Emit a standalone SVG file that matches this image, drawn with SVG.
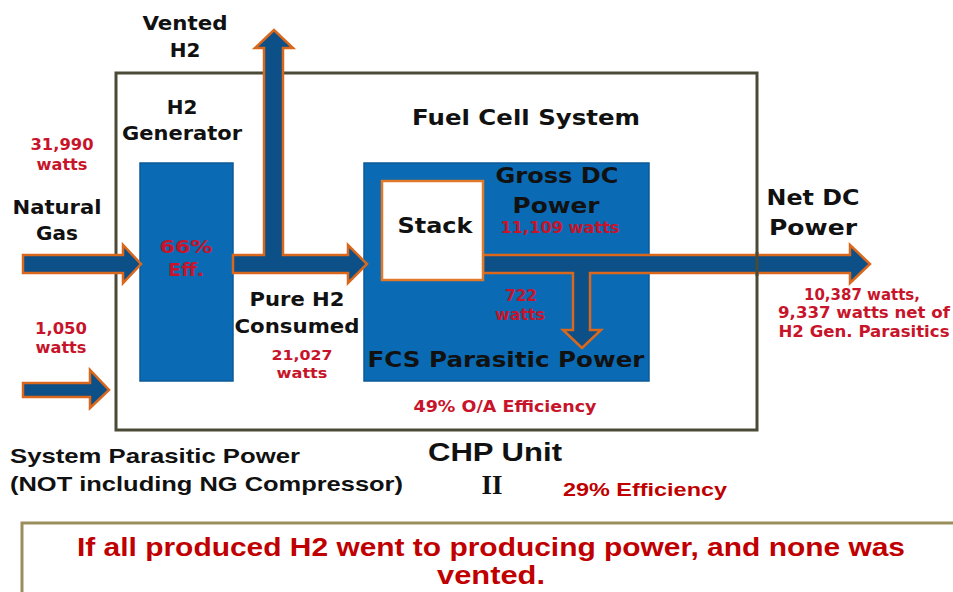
<svg xmlns="http://www.w3.org/2000/svg" width="953" height="592" viewBox="0 0 953 592">
<defs>
<style>
.t{font-family:"DejaVu Sans","Liberation Sans",sans-serif;font-weight:bold;fill:#111;text-anchor:middle}
.r{font-family:"DejaVu Sans","Liberation Sans",sans-serif;font-weight:bold;fill:#c8142a;text-anchor:middle}
.c{font-family:"Liberation Sans","DejaVu Sans",sans-serif;font-weight:bold;fill:#111}
.cr{font-family:"Liberation Sans","DejaVu Sans",sans-serif;font-weight:bold;fill:#c00000}
.blue{fill:#0a6ab4;stroke:#0b5a98;stroke-width:1.5}
.arr{fill:#0d4f87;stroke:#d9681d;stroke-width:2.5;stroke-linejoin:miter}
</style>
</defs>
<rect width="953" height="592" fill="#fff"/>
<g id="system-box">
<rect x="116" y="73" width="641" height="357" fill="none" stroke="#4a4a36" stroke-width="3"/>
</g>
<g id="h2-generator">
<rect class="blue" x="140" y="163" width="93" height="218"/>
<text class="t" x="182" y="114" font-size="20">H2</text>
<text class="t" x="182" y="140" font-size="20" textLength="120" lengthAdjust="spacingAndGlyphs">Generator</text>
<text class="r" x="186" y="253" font-size="18" textLength="53" lengthAdjust="spacingAndGlyphs">66%</text>
<text class="r" x="186" y="276" font-size="18" textLength="36" lengthAdjust="spacingAndGlyphs">Eff.</text>
</g>
<g id="fuel-cell-system">
<rect class="blue" x="364" y="163" width="285" height="218"/>
<text class="t" x="526" y="125" font-size="22" textLength="228" lengthAdjust="spacingAndGlyphs">Fuel Cell System</text>
<text class="t" x="557" y="183" font-size="21" textLength="123" lengthAdjust="spacingAndGlyphs">Gross DC</text>
<text class="t" x="556" y="213" font-size="21" textLength="87" lengthAdjust="spacingAndGlyphs">Power</text>
<text class="r" x="560" y="233" font-size="15" textLength="119" lengthAdjust="spacingAndGlyphs">11,109 watts</text>
<text class="r" x="521" y="301" font-size="15" textLength="32" lengthAdjust="spacingAndGlyphs">722</text>
<text class="r" x="520" y="320" font-size="15" textLength="50" lengthAdjust="spacingAndGlyphs">watts</text>
<text class="t" x="506" y="367" font-size="22" textLength="277" lengthAdjust="spacingAndGlyphs">FCS Parasitic Power</text>
</g>
<g id="connectors">
<polygon class="arr" points="23,255 123,255 123,245 141,264 123,283 123,273 23,273"/>
<polygon class="arr" points="23,383 90,383 90,370 109,390 90,408 90,397 23,397"/>
<polygon class="arr" points="233,255 264,255 264,48 255,48 274,30 293,48 283,48 283,255 348,255 348,245 367,264 348,283 348,273 233,273"/>
<polygon class="arr" points="483,255 850,255 850,245 870,264 850,283 850,273 590,273 590,330 601,330 582,348 563,330 573,330 573,273 483,273"/>
<line x1="757" y1="252" x2="757" y2="276" stroke="#4a4a36" stroke-width="3"/>
</g>
<g id="stack">
<rect x="382" y="181" width="101" height="99" fill="#fff" stroke="#e07a2a" stroke-width="2.5"/>
<text class="t" x="435" y="233" font-size="22" textLength="75" lengthAdjust="spacingAndGlyphs">Stack</text>
</g>
<g id="labels">
<text class="t" x="185" y="30" font-size="20" textLength="85" lengthAdjust="spacingAndGlyphs">Vented</text>
<text class="t" x="185" y="57" font-size="20">H2</text>
<text class="r" x="62" y="150" font-size="15" textLength="63" lengthAdjust="spacingAndGlyphs">31,990</text>
<text class="r" x="62" y="170" font-size="15" textLength="51" lengthAdjust="spacingAndGlyphs">watts</text>
<text class="t" x="57" y="214" font-size="20" textLength="89" lengthAdjust="spacingAndGlyphs">Natural</text>
<text class="t" x="57" y="240" font-size="20">Gas</text>
<text class="r" x="61" y="334" font-size="15" textLength="52" lengthAdjust="spacingAndGlyphs">1,050</text>
<text class="r" x="61" y="353" font-size="15" textLength="51" lengthAdjust="spacingAndGlyphs">watts</text>
<text class="t" x="297" y="306" font-size="19" textLength="95" lengthAdjust="spacingAndGlyphs">Pure H2</text>
<text class="t" x="297" y="333" font-size="19" textLength="125" lengthAdjust="spacingAndGlyphs">Consumed</text>
<text class="r" x="302" y="360" font-size="14" textLength="61" lengthAdjust="spacingAndGlyphs">21,027</text>
<text class="r" x="302" y="378" font-size="14" textLength="51" lengthAdjust="spacingAndGlyphs">watts</text>
<text class="r" x="505" y="412" font-size="15" textLength="183" lengthAdjust="spacingAndGlyphs">49% O/A Efficiency</text>
<text class="t" x="813" y="205" font-size="21" textLength="93" lengthAdjust="spacingAndGlyphs">Net DC</text>
<text class="t" x="813" y="235" font-size="21" textLength="88" lengthAdjust="spacingAndGlyphs">Power</text>
<text class="r" x="862" y="300" font-size="15" textLength="116" lengthAdjust="spacingAndGlyphs">10,387 watts,</text>
<text class="r" x="864" y="318" font-size="15" textLength="172" lengthAdjust="spacingAndGlyphs">9,337 watts net of</text>
<text class="r" x="864" y="337" font-size="15" textLength="171" lengthAdjust="spacingAndGlyphs">H2 Gen. Parasitics</text>
<text class="c" x="10" y="463" font-size="21" textLength="290" lengthAdjust="spacingAndGlyphs">System Parasitic Power</text>
<text class="c" x="10" y="491" font-size="21" textLength="393" lengthAdjust="spacingAndGlyphs">(NOT including NG Compressor)</text>
<text class="c" x="428" y="461" font-size="26" textLength="134" lengthAdjust="spacingAndGlyphs">CHP Unit</text>
<text x="492" y="494" font-family="'Liberation Serif','DejaVu Serif',serif" font-weight="bold" font-size="27" fill="#111" text-anchor="middle">II</text>
<text class="cr" x="563" y="496" font-size="19" textLength="164" lengthAdjust="spacingAndGlyphs">29% Efficiency</text>
</g>
<g id="note-box">
<rect x="22" y="523" width="945" height="80" fill="none" stroke="#9a8f5c" stroke-width="3"/>
<text class="cr" x="491" y="556" font-size="25" text-anchor="middle" textLength="828" lengthAdjust="spacingAndGlyphs">If all produced H2 went to producing power, and none was</text>
<text class="cr" x="491" y="584" font-size="25" text-anchor="middle" textLength="108" lengthAdjust="spacingAndGlyphs">vented.</text>
</g>
</svg>
